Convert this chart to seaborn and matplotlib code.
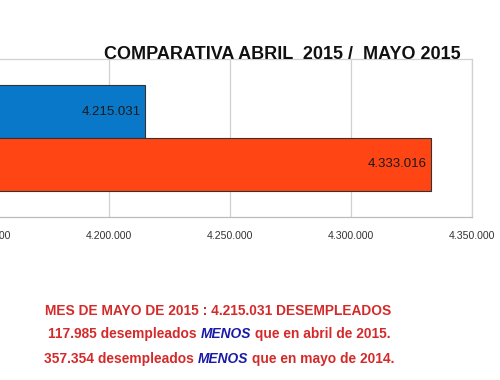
import matplotlib
matplotlib.use('Agg')
import matplotlib.pyplot as plt
import matplotlib.ticker as mticker
import pandas as pd
import seaborn as sns

# data
periodos = ['MAYO 2015', 'ABRIL 2015']
desempleados = [4215031, 4333016]
colores = ['#0a78c8', '#ff4513']
ticks_x = [4150000, 4200000, 4250000, 4300000, 4350000]

titulo = 'COMPARATIVA ABRIL  2015 /  MAYO 2015'
linea1 = 'MES DE MAYO DE 2015 : 4.215.031 DESEMPLEADOS'
linea2 = ['117.985 desempleados ', 'MENOS', ' que en abril de 2015.']
linea3 = ['357.354 desempleados ', 'MENOS', ' que en mayo de 2014.']

def miles(v):
    return '{:,.0f}'.format(v).replace(',', '.')

sns.set_style('white')
plt.rcParams['font.family'] = ['Liberation Sans', 'DejaVu Sans']

df = pd.DataFrame({'periodo': periodos, 'valor': desempleados})

fig = plt.figure(figsize=(5, 3.8), dpi=100)
fig.patch.set_facecolor('white')
ax = fig.add_axes([-0.024, 0.429, 0.968, 0.416])
ax.set_facecolor('none')

sns.barplot(data=df, x='valor', y='periodo', hue='periodo', palette=colores,
            saturation=1, orient='h', width=1.0, edgecolor='#333333',
            linewidth=0.8, legend=False, ax=ax, zorder=3)

ax.set_xlim(ticks_x[0], ticks_x[-1])
ax.set_ylim(2, -1)
ax.set_xticks(ticks_x)
ax.xaxis.set_major_formatter(mticker.FuncFormatter(lambda v, p: miles(v)))
ax.set_yticks([])
ax.set_xlabel('')
ax.set_ylabel('')
ax.tick_params(axis='x', length=0, pad=10, labelsize=7.6, labelcolor='#333333')
ax.grid(axis='x', color='#d0d0d0', linewidth=0.9, zorder=0)
for s in ['top', 'right', 'bottom', 'left']:
    ax.spines[s].set_visible(True)
    ax.spines[s].set_color('#d0d0d0')
    ax.spines[s].set_linewidth(0.9)
ax.spines['bottom'].set_color('#bbbbbb')

# value labels inside bars
for i, v in enumerate(desempleados):
    ax.text(v - 1800, i, miles(v), ha='right', va='center', fontsize=9.5,
            color='#1a1a1a', zorder=4)

fig.text(0.921, 0.845, titulo, ha='right', va='baseline', fontsize=12.95,
         fontweight='bold', color='#111111')

rojo = '#d42a2a'
azul = '#1a1aa8'
fig.text(0.09, 1 - 315 / 380, linea1, ha='left', va='baseline', fontsize=9.9,
         fontweight='bold', color=rojo)

def linea(x0, y_px, partes):
    t1 = fig.text(x0, 1 - y_px / 380, partes[0], ha='left', va='bottom',
                  fontsize=9.9, fontweight='bold', color=rojo)
    t2 = plt.annotate(partes[1], xy=(1, 0), xycoords=t1, ha='left', va='bottom',
                      fontsize=9.9, fontweight='bold', fontstyle='italic', color=azul)
    plt.annotate(partes[2], xy=(1, 0), xycoords=t2, ha='left', va='bottom',
                 fontsize=9.9, fontweight='bold', color=rojo)

linea(0.097, 341, linea2)
linea(0.087, 366, linea3)

fig.savefig('out.png', dpi=100, facecolor='white')
